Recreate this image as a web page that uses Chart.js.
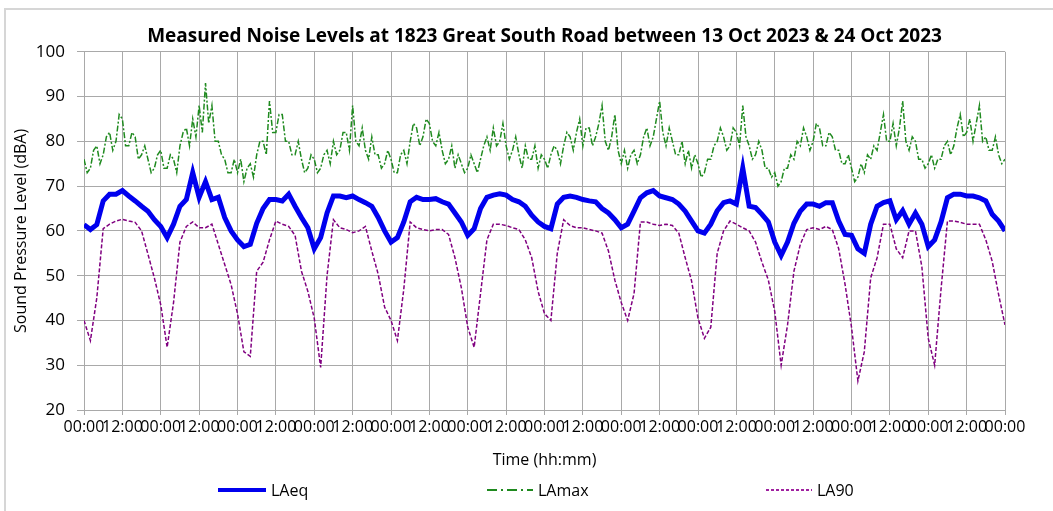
<!DOCTYPE html>
<html>
<head>
<meta charset="utf-8">
<script src="https://cdn.jsdelivr.net/npm/chart.js@4.4.0/dist/chart.umd.min.js"></script>
<style>
  body { margin: 0; background: #fff; }
  #wrap { position: relative; width: 1053px; height: 511px; overflow: hidden; }
  #frame { position: absolute; left: 4px; top: 8px; width: 1100px; height: 600px;
           border-top: 2px solid #d6d6d6; border-left: 2px solid #d6d6d6; }
  #chart { position: absolute; left: 0; top: 0; }
  #legend { position: absolute; left: 0; top: 478px; width: 1053px; height: 24px;
            font: 16px "Open Sans", sans-serif; color: #000; }
  .item { position: absolute; top: 0; height: 24px; display: flex; align-items: center; }
  .item svg { margin-right: 5px; }
</style>
</head>
<body>
<div id="wrap">
  <div id="frame"></div>
  <canvas id="chart" width="1053" height="511"></canvas>
  <div id="legend">
    <div class="item" style="left:218px"><svg width="48" height="10"><line x1="0" y1="5" x2="48" y2="5" stroke="#0000ee" stroke-width="4"/></svg>LAeq</div>
    <div class="item" style="left:487px"><svg width="46" height="10"><line x1="0" y1="5" x2="46" y2="5" stroke="#1f8a1f" stroke-width="2" stroke-dasharray="10,4,2,4"/></svg>LAmax</div>
    <div class="item" style="left:766px"><svg width="46" height="10"><line x1="0" y1="5" x2="46" y2="5" stroke="#a020a0" stroke-width="2" stroke-dasharray="3,2"/></svg>LA90</div>
  </div>
</div>
<script>
// readings from 13 Oct 00:00 to 25 Oct 00:00
// LAeq and LA90 every 2 h, LAmax every 1 h
const timeTicks = ['00:00','12:00','00:00','12:00','00:00','12:00','00:00','12:00','00:00','12:00',
  '00:00','12:00','00:00','12:00','00:00','12:00','00:00','12:00','00:00','12:00',
  '00:00','12:00','00:00','12:00','00:00'];
const yTicks = [20, 30, 40, 50, 60, 70, 80, 90, 100];

const LAeq = [
  61.4, 60.3, 61.4, 66.7, 68.2, 68.2, 69, 67.8, 66.7, 65.5, 64.4, 62.5,
  61, 58.5, 61.5, 65.5, 67, 73, 67.5, 71, 67, 67.5, 63, 60,
  58, 56.5, 57, 61.7, 65, 67, 67, 66.7, 68.2, 65.5, 63, 60.7,
  56, 58.5, 64, 67.8, 67.8, 67.4, 67.8, 67, 66.3, 65.5, 63, 60,
  57.5, 58.5, 62, 66.5, 67.5, 67, 67, 67.2, 66.5, 66, 64, 62,
  59, 60.5, 65, 67.5, 68, 68.3, 68, 67, 66.5, 65.5, 63.5, 62,
  61, 60.5, 66, 67.5, 67.8, 67.5, 67, 66.7, 66.5, 65, 64, 62.5,
  60.7, 61.5, 64.4, 67.4, 68.5, 69, 67.8, 67.4, 67, 66, 64.4, 62.2,
  60, 59.5, 61.5, 64.5, 66.3, 66.7, 66, 74, 65.5, 65.2, 63.7, 62,
  57.5, 54.5, 57.5, 61.7, 64.4, 66, 66, 65.5, 66.3, 66.3, 62.2, 59.2,
  59, 56, 55, 61.5, 65.5, 66.3, 66.7, 62.5, 64.5, 61.5, 64, 61.5,
  56.5, 58, 62, 67.4, 68.2, 68.2, 67.8, 67.8, 67.4, 66.7, 63.7, 62.2,
  60
];
const LAmax = [
  76, 73, 74, 78, 79, 75, 77, 81, 82, 78, 80, 86, 85, 79, 79, 82, 81, 76, 77, 79, 76, 73, 74, 77,
  78, 74, 74, 77, 76, 73, 79, 82, 83, 79, 85, 81, 88, 82, 93, 84, 88, 80, 80, 77, 76, 73, 73, 76,
  73, 76, 71, 74, 75, 72, 77, 80, 80, 77, 89, 82, 82, 86, 86, 80, 80, 77, 77, 80, 76, 73, 74, 77,
  76, 73, 74, 77, 78, 75, 80, 77, 78, 82, 82, 78, 88, 80, 79, 83, 78, 76, 81, 77, 77, 74, 75, 78,
  76, 73, 73, 77, 78, 75, 80, 84, 83, 79, 81, 85, 84, 80, 79, 82, 78, 75, 76, 79, 74, 77, 75, 73,
  74, 77, 75, 73, 76, 79, 81, 78, 83, 79, 80, 84, 79, 76, 78, 81, 77, 74, 79, 76, 76, 79, 74, 77,
  76, 74, 77, 79, 78, 75, 79, 82, 81, 78, 82, 85, 79, 83, 83, 79, 81, 84, 88, 80, 78, 81, 86, 78,
  75, 78, 74, 77, 78, 75, 77, 81, 83, 79, 81, 85, 89, 82, 79, 83, 80, 77, 77, 80, 75, 78, 74, 77,
  75, 72, 73, 76, 76, 79, 80, 83, 81, 78, 79, 83, 82, 79, 88, 81, 79, 76, 77, 80, 78, 74, 74, 72,
  73, 70, 71, 74, 74, 77, 76, 80, 79, 83, 81, 78, 80, 84, 83, 79, 79, 82, 81, 78, 78, 75, 75, 77,
  74, 71, 72, 75, 73, 77, 76, 79, 78, 82, 86, 80, 80, 84, 79, 83, 89, 80, 78, 81, 80, 76, 76, 74,
  75, 77, 74, 76, 76, 79, 80, 77, 79, 83, 86, 81, 82, 85, 80, 84, 88, 80, 81, 78, 78, 81, 77, 75,
  76
];
const LA90 = [
  40, 35.5, 45, 60.5, 61.5, 62.2, 62.6, 62.2, 61.9, 60, 54.8, 49.5,
  43.5, 34, 44, 57.5, 61, 62, 60.7, 60.7, 61.5, 57, 52.5, 48,
  41.5, 33, 32, 51, 53, 58, 62.2, 61.5, 61, 59, 51, 46.5,
  40.5, 29.5, 50, 62.5, 60.7, 60.3, 59.6, 60, 61, 55.5, 50.3, 43,
  40, 35.5, 47, 62, 60.7, 60.3, 60, 60.3, 60.3, 59.2, 54, 47.3,
  38.5, 34, 46, 58, 61.5, 61.5, 61.2, 60.7, 60.3, 58, 54, 46.5,
  41.5, 40, 55, 62.5, 61.2, 60.7, 60.7, 60.3, 60, 59.5, 55.5, 49,
  44, 40, 46, 62, 62, 61.5, 61.2, 61.5, 61.2, 59.5, 54, 48.8,
  40.5, 36, 38.5, 55, 60, 62.2, 61.5, 60.7, 60, 57.5, 53, 49,
  42, 30, 39, 51, 57, 60.3, 60.7, 60.3, 61, 60.3, 56, 48,
  38.5, 26.5, 33, 49.5, 54, 61.5, 61.5, 56, 54, 60, 60, 52,
  36, 30, 47, 62.2, 62.2, 61.9, 61.5, 61.5, 61.5, 58, 53.2, 45.8,
  39
];

const toPoints = (arr, step) => arr.map((v, i) => ({ x: i * step, y: v }));
const gridGrey = '#a9a9a9';
const font = { family: 'Open Sans', size: 16 };

new Chart(document.getElementById('chart'), {
  type: 'line',
  data: {
    datasets: [
      { label: 'LAeq', data: toPoints(LAeq, 2), borderColor: '#0000ee', borderWidth: 5,
        pointRadius: 0, tension: 0 },
      { label: 'LAmax', data: toPoints(LAmax, 1), borderColor: '#1f8a1f', borderWidth: 1.5,
        borderDash: [6, 2, 2, 2], pointRadius: 0, tension: 0 },
      { label: 'LA90', data: toPoints(LA90, 2), borderColor: '#800080', borderWidth: 1.5,
        borderDash: [4, 2], pointRadius: 0, tension: 0 }
    ]
  },
  options: {
    responsive: false,
    animation: false,
    layout: { padding: { left: 0, right: 48, top: 0, bottom: 36 } },
    plugins: {
      legend: { display: false },
      tooltip: { enabled: false },
      title: {
        display: true,
        fullSize: false,
        text: 'Measured Noise Levels at 1823 Great South Road between 13 Oct 2023 & 24 Oct 2023',
        color: '#000',
        font: { family: 'Open Sans', size: 19, weight: 'bold' },
        padding: { top: 25, bottom: 4 }
      }
    },
    scales: {
      x: {
        type: 'linear',
        min: 0,
        max: 288,
        afterFit: s => { s.height = 65; },
        ticks: {
          stepSize: 12, autoSkip: false, maxRotation: 0, minRotation: 0,
          color: '#000', font, padding: 3,
          callback: (v, i) => timeTicks[i]
        },
        grid: { color: gridGrey, tickLength: 5 },
        border: { color: gridGrey },
        title: { display: true, text: 'Time (hh:mm)', color: '#000', font,
                 padding: { top: 0, bottom: 5 } }
      },
      y: {
        min: 20,
        max: 100,
        afterFit: s => { s.width = 84; },
        afterBuildTicks: s => { s.ticks = yTicks.map(v => ({ value: v })); },
        ticks: { color: '#000', font: { family: 'Open Sans', size: 17 }, padding: 12 },
        grid: { color: gridGrey, tickLength: 7 },
        border: { color: gridGrey },
        title: { display: true, text: 'Sound Pressure Level (dBA)', color: '#000', font,
                 padding: { top: 12 } }
      }
    }
  }
});
</script>
</body>
</html>
